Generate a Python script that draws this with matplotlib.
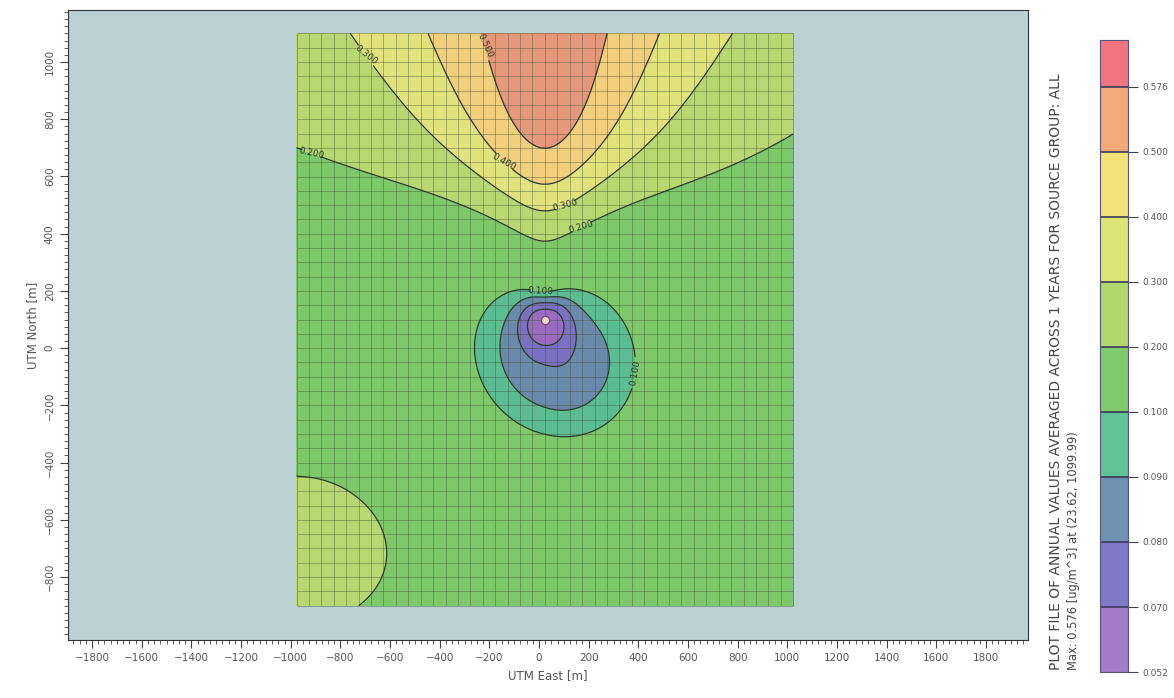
import numpy as np
import matplotlib.pyplot as plt
from matplotlib.ticker import MultipleLocator

# receptor grid (UTM, m), source sits in the middle
src_x, src_y = 23.62, 99.99
grid_x0, grid_x1 = -976.38, 1023.62
grid_y0, grid_y1 = -900.01, 1099.99
grid_step = 50

max_val = 0.576
levels = [0.052, 0.070, 0.080, 0.090, 0.100, 0.200, 0.300, 0.400, 0.500, 0.576]
level_labels = ['0.052', '0.070', '0.080', '0.090', '0.100',
                '0.200', '0.300', '0.400', '0.500', '0.576']
map_colors = ['#9a6cc0', '#7b70c2', '#6a8aac', '#5cbd92', '#7dc86a',
              '#b6d772', '#e2e27c', '#f1cf7c', '#e6987a', '#ee7080']
bar_colors = ['#a57ccb', '#8079c8', '#6e92b0', '#5fc394', '#80cc6c',
              '#b2d76c', '#dce574', '#f3e278', '#f4a978', '#f27482']

# plume field (relative to source)
bg_level = 0.161
plume_peak, plume_mid, plume_scale = 0.413, 415, 105
plume_w0, plume_w1 = 20, 0.53
plume_tilt = 0.0045
lobe = dict(amp=0.072, x=-990, y=-805, sx=413, sy=296)
dip = dict(amp=0.081, x=40, y=-125, a=440, b=370, angle=-20)
core = dict(amp=0.032, s=70)

xs = np.linspace(grid_x0, grid_x1, 401)
ys = np.linspace(grid_y0, grid_y1, 401)
gx, gy = np.meshgrid(xs, ys)
X, Y = gx - src_x, gy - src_y

w = np.clip(plume_w0 + plume_w1 * Y, 80, None)
P = plume_peak / (1 + np.exp(-(Y - plume_mid) / plume_scale))
field = bg_level + P / (1 + (X / w) ** 2)
field += plume_tilt * (-X / 1000) * (P / plume_peak)
q = ((X - lobe['x']) / lobe['sx']) ** 2 + ((Y - lobe['y']) / lobe['sy']) ** 2
field += lobe['amp'] * np.exp(-q ** 2)
th = np.deg2rad(dip['angle'])
u = (X - dip['x']) * np.cos(th) + (Y - dip['y']) * np.sin(th)
v = -(X - dip['x']) * np.sin(th) + (Y - dip['y']) * np.cos(th)
field -= dip['amp'] * np.exp(-0.5 * ((u / dip['a']) ** 2 + (v / dip['b']) ** 2))
field -= core['amp'] * np.exp(-(X ** 2 + Y ** 2) / (2 * core['s'] ** 2))

fig = plt.figure(figsize=(11.74, 6.98), dpi=100)
ax = fig.add_axes([0.0579, 0.0831, 0.8177, 0.9026])
ax.set_facecolor('#bad0d3')

ax.contourf(gx, gy, field, levels=[0] + levels[1:] + [1],
            colors=map_colors, zorder=1)
cs = ax.contour(gx, gy, field, levels=levels[1:-1], colors='#2a3a2a',
                linewidths=0.9, zorder=3)

# receptor grid lines
gxl = np.arange(grid_x0, grid_x1 + 1, grid_step)
gyl = np.arange(grid_y0, grid_y1 + 1, grid_step)
ax.vlines(gxl, grid_y0, grid_y1, color='#3c4a30', lw=0.6, alpha=0.45, zorder=2)
ax.hlines(gyl, grid_x0, grid_x1, color='#3c4a30', lw=0.6, alpha=0.45, zorder=2)

label_pos = [(-918, 668), (-693, 1031), (-215, 1060), (-145, 640),
             (105, 490), (177, 390), (375, -84), (4, 196)]
ax.clabel(cs, fmt='%.3f', fontsize=6.5, colors='#2a3a2a', inline=True,
          manual=label_pos)

ax.plot(src_x, src_y, 'o', ms=6, mfc='#f3d8c8', mec='#7a4a70', mew=1, zorder=4)

ax.set_xlim(-1897, 1969)
ax.set_ylim(-1020, 1182)
ax.set_xticks(np.arange(-1800, 1801, 200))
ax.set_yticks(np.arange(-800, 1001, 200))
ax.xaxis.set_minor_locator(MultipleLocator(25))
ax.yaxis.set_minor_locator(MultipleLocator(25))
ax.tick_params(which='major', direction='out', length=6, labelsize=7.5,
               labelcolor='#555555', color='#444444')
ax.tick_params(which='minor', direction='out', length=3, color='#444444')
for t in ax.get_yticklabels():
    t.set_rotation(90)
    t.set_va('center')
for s in ax.spines.values():
    s.set_color('#333333')
ax.set_xlabel('UTM East [m]', fontsize=8.5, color='#555555', labelpad=4)
ax.set_ylabel('UTM North [m]', fontsize=8.5, color='#555555', labelpad=4)

# colour bar with equal-sized bands, short top band
cax = fig.add_axes([0.937, 0.0372, 0.024, 0.9054])
n = len(levels)
heights = [1] * (n - 1) + [0.72]
cax.bar(0, heights, bottom=np.arange(n), width=1, color=bar_colors,
        edgecolor='none')
for i in range(1, n):
    cax.axhline(i, color='#3a3a5a', lw=1.2)
cax.set_xlim(-0.5, 0.5)
cax.set_ylim(0, n - 1 + 0.72)
cax.set_xticks([])
cax.yaxis.tick_right()
cax.set_yticks(np.arange(n))
cax.set_yticklabels(level_labels)
cax.tick_params(axis='y', direction='out', length=7, labelsize=6.5,
                labelcolor='#555555', color='#444444')
for s in cax.spines.values():
    s.set_color('#555577')

fig.text(0.8995, 0.04, 'PLOT FILE OF ANNUAL VALUES AVERAGED ACROSS 1 YEARS FOR SOURCE GROUP: ALL',
         rotation=90, ha='center', va='bottom', fontsize=10, color='#444444')
fig.text(0.9145, 0.04, 'Max: 0.576 [ug/m^3] at (23.62, 1099.99)',
         rotation=90, ha='center', va='bottom', fontsize=8.3, color='#444444')

fig.savefig('out.png', dpi=100)
plt.close(fig)
